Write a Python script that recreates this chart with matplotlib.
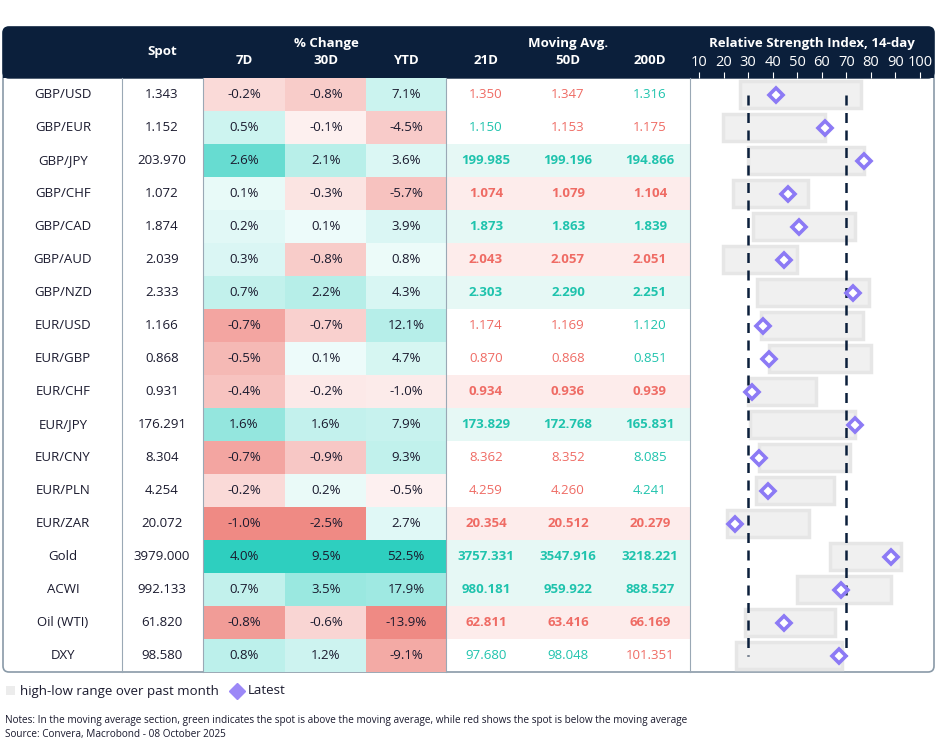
import matplotlib
matplotlib.use("Agg")
import matplotlib.pyplot as plt
from matplotlib.patches import Rectangle, FancyBboxPatch
import numpy as np

plt.rcParams['font.family'] = ['Open Sans', 'DejaVu Sans']

names = ["GBP/USD","GBP/EUR","GBP/JPY","GBP/CHF","GBP/CAD","GBP/AUD","GBP/NZD","EUR/USD","EUR/GBP",
         "EUR/CHF","EUR/JPY","EUR/CNY","EUR/PLN","EUR/ZAR","Gold","ACWI","Oil (WTI)","DXY"]
spot = [1.343,1.152,203.970,1.072,1.874,2.039,2.333,1.166,0.868,0.931,176.291,8.304,4.254,20.072,3979.000,992.133,61.820,98.580]
chg7 = [-0.2,0.5,2.6,0.1,0.2,0.3,0.7,-0.7,-0.5,-0.4,1.6,-0.7,-0.2,-1.0,4.0,0.7,-0.8,0.8]
chg30 = [-0.8,-0.1,2.1,-0.3,0.1,-0.8,2.2,-0.7,0.1,-0.2,1.6,-0.9,0.2,-2.5,9.5,3.5,-0.6,1.2]
chgytd = [7.1,-4.5,3.6,-5.7,3.9,0.8,4.3,12.1,4.7,-1.0,7.9,9.3,-0.5,2.7,52.5,17.9,-13.9,-9.1]
ma21 = [1.350,1.150,199.985,1.074,1.873,2.043,2.303,1.174,0.870,0.934,173.829,8.362,4.259,20.354,3757.331,980.181,62.811,97.680]
ma50 = [1.347,1.153,199.196,1.079,1.863,2.057,2.290,1.169,0.868,0.936,172.768,8.352,4.260,20.512,3547.916,959.922,63.416,98.048]
ma200 = [1.316,1.175,194.866,1.104,1.839,2.051,2.251,1.120,0.851,0.939,165.831,8.085,4.241,20.279,3218.221,888.527,66.169,101.351]
rsi_lo = [26.6,19.7,29.9,23.8,31.9,19.7,33.5,35.1,38.4,29.9,30.7,34.3,33.1,21.4,63.5,50.1,28.6,25.0]
rsi_hi = [76.1,61.5,77.3,54.2,73.6,50.1,79.3,76.9,80.1,57.8,73.6,71.6,65.1,54.6,92.3,88.2,65.5,68.4]
rsi_now = [41.2,61.5,77.3,46.1,50.9,44.5,72.8,35.9,38.4,31.5,73.6,34.3,38.0,24.6,88.2,68.0,44.5,67.2]
rsi_ticks = [10,20,30,40,50,60,70,80,90,100]

NAVY = '#0b1f3b'; GREEN = '#1fc3ad'; RED = '#ef6b64'; TXT = '#1a1a2e'
fig = plt.figure(figsize=(9.37, 7.45), dpi=100)
ax = fig.add_axes([0, 0, 1, 1])
ax.set_xlim(0, 937); ax.set_ylim(745, 0); ax.axis('off')

top, hdr_bot, rh, n = 27, 78, 33.0, len(names)
bot = hdr_bot + rh * n
ax.add_patch(FancyBboxPatch((3, top), 931, bot - top, boxstyle="round,pad=0,rounding_size=6",
                            fc='white', ec='#8a9aa8', lw=1.2, zorder=0))
ax.add_patch(FancyBboxPatch((3, top), 931, hdr_bot - top, boxstyle="round,pad=0,rounding_size=6",
                            fc=NAVY, ec=NAVY, lw=1, zorder=1))
ax.add_patch(Rectangle((3, hdr_bot - 12), 931, 12, fc=NAVY, ec='none', zorder=1.2))

cx = dict(name=63, spot=162, c7=244, c30=326, cy=406, m21=486, m50=568, m200=650)
hw = dict(spot=(122,203), c7=(203,285), c30=(285,366), cy=(366,446), m21=(446,527), m50=(527,609), m200=(609,690))

def hdr(x, y, s, size=9.5):
    ax.text(x, y, s, color='white', fontsize=size, fontweight='bold', ha='center', va='center', zorder=3)
hdr(cx['spot'], 52, 'Spot'); hdr(cx['c30'], 43, '% Change')
for k, s in [('c7','7D'),('c30','30D'),('cy','YTD'),('m21','21D'),('m50','50D'),('m200','200D')]:
    hdr(cx[k], 61, s)
hdr(cx['m50'], 43, 'Moving Avg.'); hdr(812, 44, 'Relative Strength Index, 14-day')

for x in [122, 203, 446, 690]:
    ax.plot([x, x], [hdr_bot, bot], color='#9aa8b5', lw=0.8, zorder=2)

def heat(v, col):
    pos = max(c for c in col if c > 0); neg = min(c for c in col if c < 0)
    if v >= 0:
        t = v / pos; c1 = np.array([0x2e, 0xcf, 0xbf]) / 255
    else:
        t = v / neg; c1 = np.array([0xef, 0x8a, 0x84]) / 255
    t = 0.06 + 0.94 * t ** 0.8
    return tuple(1 - t * (1 - c1))

for i in range(n):
    y0 = hdr_bot + i * rh; yc = y0 + rh / 2
    ax.text(cx['name'], yc, names[i], fontsize=9.5, color=TXT, ha='center', va='center', zorder=3)
    ax.text(cx['spot'], yc, f"{spot[i]:.3f}", fontsize=9.5, color=TXT, ha='center', va='center', zorder=3)
    for k, col in [('c7', chg7), ('c30', chg30), ('cy', chgytd)]:
        a, b = hw[k]
        ax.add_patch(Rectangle((a, y0), b - a, rh, fc=heat(col[i], col), ec='none', zorder=1.5))
        ax.text(cx[k], yc, f"{col[i]:.1f}%", fontsize=9.5, color=TXT, ha='center', va='center', zorder=3)
    mas = [ma21[i], ma50[i], ma200[i]]
    ups = [spot[i] > m for m in mas]
    strong = all(ups) or not any(ups)
    if strong:
        ax.add_patch(Rectangle((446, y0), 244, rh, fc='#e6f8f5' if ups[0] else '#fdeceb', ec='none', zorder=1.5))
    for k, m, u in zip(['m21', 'm50', 'm200'], mas, ups):
        ax.text(cx[k], yc, f"{m:.3f}", fontsize=9.5, color=GREEN if u else RED,
                fontweight='bold' if strong else 'normal', ha='center', va='center', zorder=3)

# RSI axes
px_per = (920 - 699) / 90.0
x_left = 10 - (699 - 690) / px_per; x_right = 100 + (934 - 920) / px_per
rax = fig.add_axes([690 / 937, 1 - bot / 745, 244 / 937, (bot - hdr_bot) / 745])
rax.set_xlim(x_left, x_right); rax.set_ylim(n - 0.5, -0.5)
rax.patch.set_alpha(0)
for s in rax.spines.values(): s.set_visible(False)
rows = np.arange(n)
rax.barh(rows, np.array(rsi_hi) - np.array(rsi_lo), left=rsi_lo, height=0.8,
         color='#f0f0f0', edgecolor='#e6e6e6', lw=2.5, zorder=1)
rax.plot([30, 30], [0, n - 1], ls=(0, (4, 3)), color=NAVY, lw=1.8, zorder=2)
rax.plot([70, 70], [0, n - 1], ls=(0, (4, 3)), color=NAVY, lw=1.8, zorder=2)
rax.plot(rsi_now, rows, ls='none', marker='D', ms=7.5, mfc='white', mec='#8c7af5', mew=2.6, zorder=3)
rax.set_yticks([])
rax.set_xticks(rsi_ticks)
rax.xaxis.tick_top()
rax.tick_params(axis='x', colors='white', labelcolor='white', length=4, width=0.8, pad=2, labelsize=10.5)

# legend & notes
ax.add_patch(Rectangle((6, 686), 9, 9, fc='#ececec', ec='none'))
ax.text(20, 691, 'high-low range over past month', fontsize=9.5, color=TXT, va='center')
ax.plot([237], [691], marker='D', ms=8, color='#9c88f7', ls='none')
ax.text(248, 691, 'Latest', fontsize=9.5, color=TXT, va='center')
ax.text(5, 720, 'Notes: In the moving average section, green indicates the spot is above the moving average, while red shows the spot is below the moving average',
        fontsize=7.2, color=TXT, va='center')
ax.text(5, 735, 'Source: Convera, Macrobond - 08 October 2025', fontsize=7.2, color=TXT, va='center')

fig.savefig('out.png', dpi=100)
